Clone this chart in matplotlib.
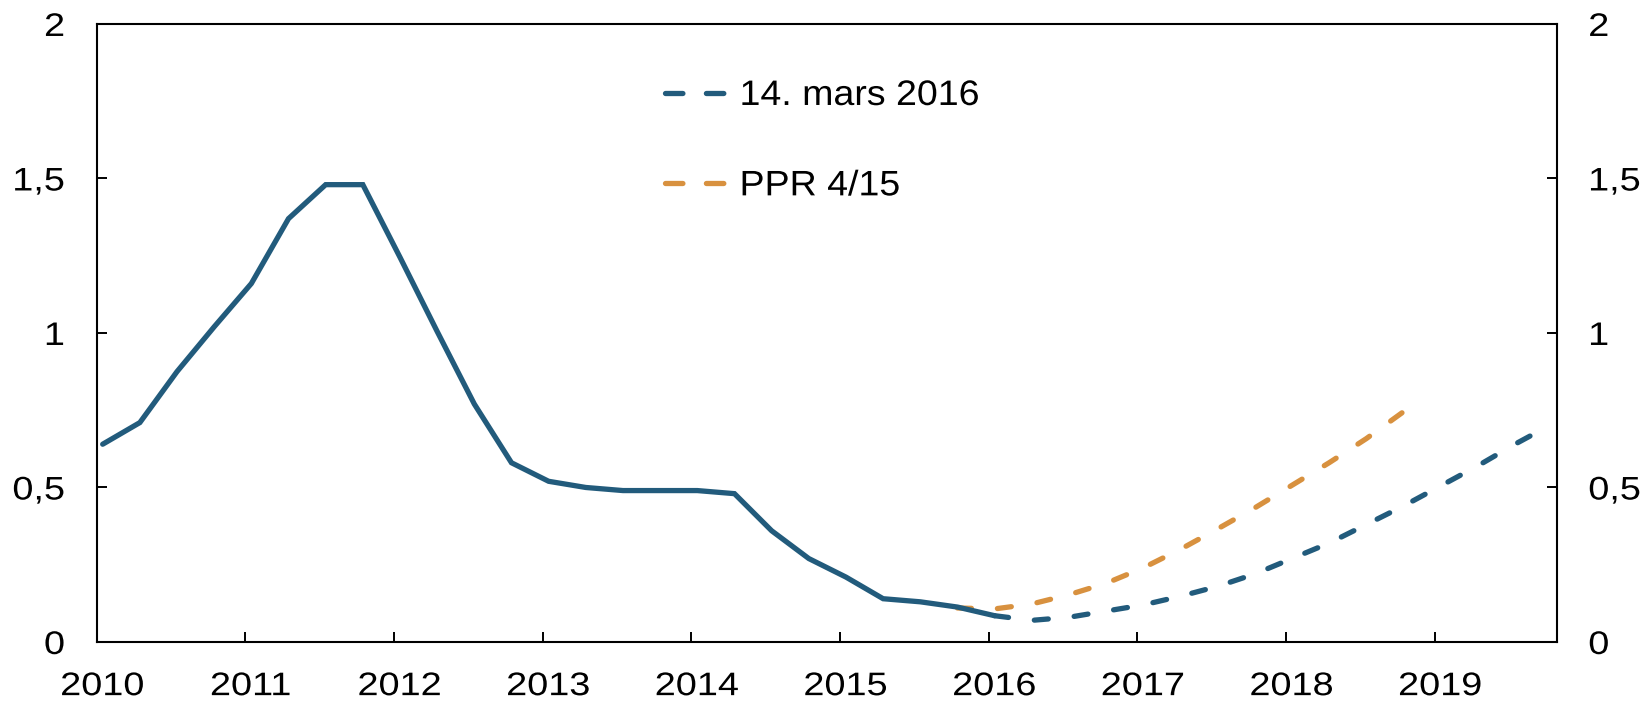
import matplotlib
matplotlib.use("Agg")
import matplotlib.pyplot as plt
from matplotlib.lines import Line2D
from matplotlib.patheffects import AbstractPathEffect
from matplotlib.transforms import Affine2D

plt.rcParams['font.family'] = ['Liberation Sans', 'DejaVu Sans']

# ---------------- data ----------------
start_year = 2010
# quarterly history 2010Q1 .. 2016Q1
hist_values = [0.64, 0.71, 0.875, 1.02, 1.16, 1.37, 1.48, 1.48,
               1.245, 1.005, 0.77, 0.58, 0.52, 0.50, 0.49, 0.49,
               0.49, 0.48, 0.36, 0.27, 0.21, 0.14, 0.13, 0.113, 0.085]
# 14. mars 2016 path: 2016Q1 .. 2019Q4
mars_start_q = 24
mars_values = [0.085, 0.07, 0.08, 0.10, 0.12, 0.148, 0.18, 0.22,
               0.27, 0.32, 0.38, 0.44, 0.505, 0.57, 0.64, 0.705]
# PPR 4/15 path: 2015Q4 .. 2018Q4
ppr_start_q = 23
ppr_values = [0.11, 0.107, 0.123, 0.153, 0.19, 0.24, 0.30, 0.366,
              0.434, 0.507, 0.58, 0.658, 0.745]

labels = ["14. mars 2016", "PPR 4/15"]
year_ticks = list(range(2010, 2020))
y_ticks = [0, 0.5, 1, 1.5, 2]
y_ticklabels = ["0", "0,5", "1", "1,5", "2"]

blue = "#225b7c"
orange = "#d8913f"


def qpos(q_index):
    # position of a quarter (index from 2010Q1), mid first month of quarter
    return start_year + q_index * 0.25 + 0.04


x_hist = [qpos(i) for i in range(len(hist_values))]
x_mars = [qpos(mars_start_q + i) for i in range(len(mars_values))]
x_ppr = [qpos(ppr_start_q + i) for i in range(len(ppr_values))]


class HStretch(AbstractPathEffect):
    """Render text slightly wider (horizontal stretch about an anchor)."""

    def __init__(self, sx, anchor='left'):
        super().__init__()
        self.sx = sx
        self.anchor = anchor

    def draw_path(self, renderer, gc, tpath, affine, rgbFace=None):
        ext = tpath.get_extents()
        if self.anchor == 'right':
            px = ext.x1
        elif self.anchor == 'center':
            px = 0.5 * (ext.x0 + ext.x1)
        else:
            px = ext.x0
        t = Affine2D().translate(-px, 0).scale(self.sx, 1).translate(px, 0) + affine
        renderer.draw_path(gc, tpath, t, rgbFace)


# ---------------- figure ----------------
fig = plt.figure(figsize=(16.48, 7.03), dpi=100)
ax = fig.add_axes([0.0587, 0.0868, 0.8858, 0.8791])

lw = 3.8
dash = (2.65, 4.93)
ax.plot(x_ppr, ppr_values, color=orange, lw=lw, dashes=dash,
        dash_capstyle='round', zorder=2)
ax.plot(x_hist, hist_values, color=blue, lw=lw, solid_capstyle='round',
        solid_joinstyle='miter', zorder=3)
ax.plot(x_mars, mars_values, color=blue, lw=lw, dashes=dash,
        dash_capstyle='round', zorder=3)

ax.set_xlim(2010, 2019.82)
ax.set_ylim(0, 2)

ax.set_xticks(year_ticks)
ax.set_xticklabels([str(y) for y in year_ticks])
ax.set_yticks(y_ticks)
ax.set_yticklabels(y_ticklabels)

for s in ax.spines.values():
    s.set_linewidth(1.5)
    s.set_color('black')

tick_fs = 23.5
ax.tick_params(axis='x', direction='in', length=7, width=1.4, pad=21,
               labelsize=tick_fs, top=False)
ax.tick_params(axis='y', direction='in', length=7, width=1.4, pad=23,
               labelsize=tick_fs, left=True, right=True, labelleft=True,
               labelright=True)

sx_ticks = 1.16
for t in ax.xaxis.get_major_ticks():
    t.label1.set_path_effects([HStretch(sx_ticks, 'left')])
for t in ax.yaxis.get_major_ticks():
    t.label1.set_path_effects([HStretch(sx_ticks, 'right')])
    t.label2.set_path_effects([HStretch(sx_ticks, 'left')])

handle_dash = (3.3, 4.45)
handles = [Line2D([0], [0], color=blue, lw=lw, dashes=handle_dash,
                  dash_capstyle='round'),
           Line2D([0], [0], color=orange, lw=lw, dashes=handle_dash,
                  dash_capstyle='round')]
leg = ax.legend(handles, labels, loc='upper left',
                bbox_to_anchor=(0.3895, 0.911),
                frameon=False, fontsize=25.5, handlelength=1.72,
                handletextpad=0.38, labelspacing=1.62, borderpad=0,
                borderaxespad=0)
for txt in leg.get_texts():
    txt.set_path_effects([HStretch(1.06, 'left')])

fig.savefig("out.png", dpi=100)
